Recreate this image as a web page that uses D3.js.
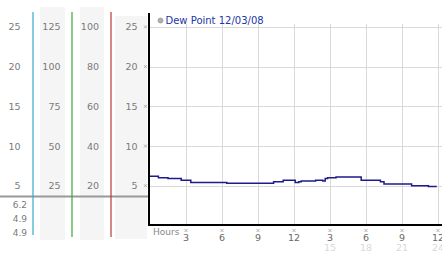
<!DOCTYPE html>
<html>
<head>
<meta charset="utf-8">
<script src="https://cdn.jsdelivr.net/npm/d3@7"></script>
<style>
  body { margin: 0; background: #fff; }
  svg { display: block; font-family: "DejaVu Sans", Verdana, sans-serif; }
</style>
</head>
<body>
<script>
// dew point chart ~ 24 hours

// data:
var hours = [0, 0.7, 1.5, 2.6, 3.4, 6.4, 10.3, 11.1, 11.9, 12.1, 12.4, 12.6, 13.8, 14.4, 14.6, 14.8, 15.5, 17.6, 19.2, 19.5, 21.8, 23.2, 23.9];
var dewPoint = [6.2, 6.0, 5.9, 5.7, 5.4, 5.3, 5.5, 5.7, 5.7, 5.4, 5.5, 5.6, 5.7, 5.6, 5.9, 6.0, 6.1, 5.7, 5.5, 5.2, 5.0, 4.9, 4.9];
var tickHours = [3, 6, 9, 12, 15, 18, 21, 24];
var tickLabels12 = ["3", "6", "9", "12", "3", "6", "9", "12"];
var tickLabels24 = ["", "", "", "", "15", "18", "21", "24"];
var yTicks = [5, 10, 15, 20, 25];
var col2Ticks = [25, 50, 75, 100, 125];
var col3Ticks = [20, 40, 60, 80, 100];
var statValues = ["6.2", "4.9", "4.9"];
var legendText = "Dew Point 12/03/08";

var width = 442, height = 253;
var plotLeft = 149, plotTop = 13, plotBottom = 225;

var svg = d3.select("body").append("svg")
    .attr("width", width)
    .attr("height", height);

// scales
var x = d3.scaleLinear().domain([0, 24]).range([150, 438]);
var y = d3.scaleLinear().domain([0, 25]).range([225.4, 26.9]);
var y2 = d3.scaleLinear().domain([0, 125]).range(y.range());
var y3 = d3.scaleLinear().domain([0, 100]).range(y.range());

// left panel backgrounds
var panels = [[40, 7, 25, 233], [80, 7, 24, 233], [115, 16, 32, 223]];
svg.selectAll(".panel")
    .data(panels)
    .enter()
    .append("rect")
    .attr("class", "panel")
    .attr("x", function(d){ return d[0]; })
    .attr("y", function(d){ return d[1]; })
    .attr("width", function(d){ return d[2]; })
    .attr("height", function(d){ return d[3]; })
    .attr("fill", "#f5f5f5");

// left tick columns
function tickColumn(ticks, scale, xpos) {
    svg.append("g")
        .selectAll("text")
        .data(ticks)
        .enter()
        .append("text")
        .attr("x", xpos)
        .attr("y", function(d){ return scale(d) + 3.5; })
        .attr("text-anchor", "end")
        .attr("font-size", 9.5)
        .attr("fill", "#7a7a7a")
        .text(function(d){ return d; });
}
tickColumn(yTicks, y, 20.5);
tickColumn(col2Ticks, y2, 60.5);
tickColumn(col3Ticks, y3, 99);
tickColumn(yTicks, y, 137.5);

// horizontal divider under the columns
svg.append("line")
    .attr("x1", 0).attr("x2", plotLeft)
    .attr("y1", 196.5).attr("y2", 196.5)
    .attr("stroke", "#999")
    .attr("stroke-width", 2);

// coloured column lines
var colLines = [[33, 12, 235, "#3aa8c8"], [72, 12, 237, "#3aa83a"], [111, 12, 237, "#b83a3a"]];
svg.selectAll(".colLine")
    .data(colLines)
    .enter()
    .append("line")
    .attr("class", "colLine")
    .attr("x1", function(d){ return d[0]; })
    .attr("x2", function(d){ return d[0]; })
    .attr("y1", function(d){ return d[1]; })
    .attr("y2", function(d){ return d[2]; })
    .attr("stroke", function(d){ return d[3]; })
    .attr("stroke-width", 1.2);

// stats under the first column
svg.append("g")
    .selectAll("text")
    .data(statValues)
    .enter()
    .append("text")
    .attr("x", 27)
    .attr("y", function(d, i){ return 207.5 + i * 14; })
    .attr("text-anchor", "end")
    .attr("font-size", 9)
    .attr("fill", "#7a7a7a")
    .text(function(d){ return d; });

// grid
svg.append("g")
    .selectAll("line")
    .data(yTicks)
    .enter()
    .append("line")
    .attr("x1", 150).attr("x2", width)
    .attr("y1", function(d){ return Math.round(y(d)) + 0.5; })
    .attr("y2", function(d){ return Math.round(y(d)) + 0.5; })
    .attr("stroke", "#d9d9d9");

svg.append("g")
    .selectAll("line")
    .data(tickHours)
    .enter()
    .append("line")
    .attr("x1", function(d){ return Math.round(x(d)) + 0.5; })
    .attr("x2", function(d){ return Math.round(x(d)) + 0.5; })
    .attr("y1", 24).attr("y2", plotBottom)
    .attr("stroke", "#d9d9d9");

// little tick marks (the dotted x glyphs)
function tickMark(cx, cy) {
    svg.append("path")
        .attr("d", "M" + (cx - 1.5) + "," + (cy - 1.5) + "L" + (cx + 1.5) + "," + (cy + 1.5) +
                   "M" + (cx + 1.5) + "," + (cy - 1.5) + "L" + (cx - 1.5) + "," + (cy + 1.5))
        .attr("stroke", "#a0a0a0")
        .attr("stroke-width", 0.8)
        .attr("fill", "none");
}
yTicks.forEach(function(d){ tickMark(145.5, y(d)); });
tickHours.forEach(function(d){ tickMark(x(d), 230.5); });

// axes lines
svg.append("line")
    .attr("x1", plotLeft).attr("x2", plotLeft)
    .attr("y1", plotTop).attr("y2", plotBottom + 1)
    .attr("stroke", "#000")
    .attr("stroke-width", 2);
svg.append("line")
    .attr("x1", plotLeft).attr("x2", width)
    .attr("y1", plotBottom).attr("y2", plotBottom)
    .attr("stroke", "#000")
    .attr("stroke-width", 2);

// x labels
svg.append("text")
    .attr("x", 153)
    .attr("y", 234.5)
    .attr("font-size", 9)
    .attr("fill", "#888")
    .text("Hours");

svg.append("g")
    .selectAll("text")
    .data(tickHours)
    .enter()
    .append("text")
    .attr("x", function(d){ return x(d); })
    .attr("y", 241)
    .attr("text-anchor", "middle")
    .attr("font-size", 9.5)
    .attr("fill", "#666")
    .text(function(d, i){ return tickLabels12[i]; });

svg.append("g")
    .selectAll("text")
    .data(tickHours)
    .enter()
    .append("text")
    .attr("x", function(d){ return x(d); })
    .attr("y", 250.5)
    .attr("text-anchor", "middle")
    .attr("font-size", 9.5)
    .attr("fill", "#d8d8d8")
    .text(function(d, i){ return tickLabels24[i]; });

// the dew point line
var points = hours.map(function(h, i){ return [h, dewPoint[i]]; });
var line = d3.line()
    .x(function(d){ return x(d[0]); })
    .y(function(d){ return y(d[1]); })
    .curve(d3.curveStepAfter);

svg.append("path")
    .datum(points)
    .attr("d", line)
    .attr("fill", "none")
    .attr("stroke", "#1c1c8a")
    .attr("stroke-width", 1.5);

// legend
svg.append("circle")
    .attr("cx", 160.5).attr("cy", 20.5).attr("r", 2.5)
    .attr("fill", "#b0b0b0")
    .attr("stroke", "#888")
    .attr("stroke-width", 0.6);
svg.append("text")
    .attr("x", 165.5)
    .attr("y", 24)
    .attr("font-size", 10)
    .attr("fill", "#2236a8")
    .text(legendText);
</script>
</body>
</html>
